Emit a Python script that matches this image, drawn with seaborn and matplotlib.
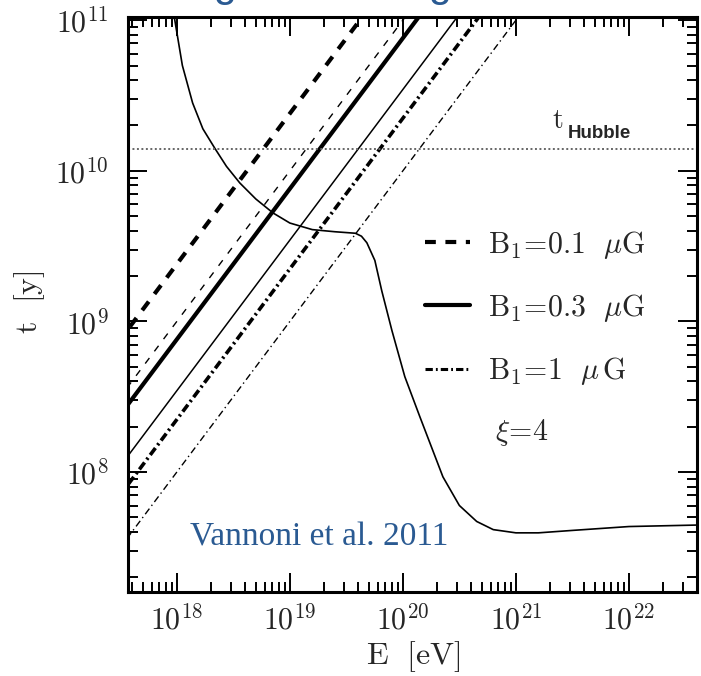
import numpy as np
import pandas as pd
import seaborn as sns
import matplotlib
matplotlib.use('Agg')
import matplotlib.pyplot as plt
from matplotlib.lines import Line2D
from matplotlib.ticker import LogLocator, FuncFormatter, NullFormatter

# Energy-loss time of the particles (thin solid curve).
loss_E = [8.9e17, 9.6e17, 1.12e18, 1.38e18, 1.70e18, 2.17e18, 2.75e18, 3.61e18,
          5.0e18, 7.1e18, 1.0e19, 1.58e19, 2.5e19, 3.8e19, 4.3e19,
          4.8e19, 5.65e19, 6.5e19, 8.0e19, 1.04e20, 1.41e20, 2.26e20, 3.16e20,
          4.5e20, 6.3e20, 1.0e21, 1.58e21, 3.16e21, 1.0e22, 4.0e22]
loss_t = [1.38e11, 1.0e11, 5.0e10, 2.82e10, 1.9e10, 1.41e10, 1.07e10, 8.3e9,
          6.5e9, 5.25e9, 4.5e9, 4.07e9, 3.94e9, 3.85e9, 3.68e9,
          3.33e9, 2.54e9, 1.60e9, 8.7e8, 4.3e8, 2.34e8, 9.3e7, 6.0e7,
          4.7e7, 4.15e7, 3.95e7, 3.95e7, 4.1e7, 4.35e7, 4.45e7]

# Confinement times (straight lines), end points at E = 3e17 and 3e21 eV.
line_E = [3e17, 3e21]
t_b01_thick = [7.2e8, 7.2e12]
t_b01_thin = [3.0e8, 3.0e12]
t_b03_thick = [2.28e8, 2.28e12]
t_b03_thin = [1.04e8, 1.04e12]
t_b1_thick = [6.7e7, 6.7e11]
t_b1_thin = [3.0e7, 3.0e11]

t_hubble = 1.4e10

legend_labels = [r'$\mathrm{B}_1\!=\!0.1\ \ \mu\mathrm{G}$',
                 r'$\mathrm{B}_1\!=\!0.3\ \ \mu\mathrm{G}$',
                 r'$\mathrm{B}_1\!=\!1\ \ \mu\,\mathrm{G}$']

BLUE = '#2a5a92'

sns.set_theme(style="ticks")
plt.rcParams['font.family'] = ['DejaVu Serif']
plt.rcParams['mathtext.fontset'] = 'cm'

fig, ax = plt.subplots(figsize=(7.01, 6.76), dpi=100)
fig.subplots_adjust(left=0.1826, right=0.9943, bottom=0.1243, top=0.9749)
ax.set_xscale('log')
ax.set_yscale('log')

dash_thick = (0, (2.6, 2.3))
dash_thin = (0, (5, 6))
dashdot_thick = (0, (2.4, 1.0, 0.6, 1.0))
dashdot_thin = (0, (5, 2.5, 1, 2.5))

styles = [
    (t_b01_thick, 3.0, dash_thick),
    (t_b01_thin, 1.0, dash_thin),
    (t_b03_thick, 3.0, '-'),
    (t_b03_thin, 1.1, '-'),
    (t_b1_thick, 2.6, dashdot_thick),
    (t_b1_thin, 1.0, dashdot_thin),
]
for t_vals, lw, ls in styles:
    df = pd.DataFrame({'E': line_E, 't': t_vals})
    sns.lineplot(data=df, x='E', y='t', ax=ax, color='black', lw=lw,
                 linestyle=ls, estimator=None, sort=False)

loss_df = pd.DataFrame({'E': loss_E, 't': loss_t})
sns.lineplot(data=loss_df, x='E', y='t', ax=ax, color='black', lw=1.2,
             estimator=None, sort=False)

ax.axhline(t_hubble, color='#666666', lw=1.4, linestyle=(0, (1, 1.3)))

ax.set_xlim(3.7e17, 4.0e22)
ax.set_ylim(1.6e7, 1.05e11)

# ticks, inward on all sides
fmt = FuncFormatter(lambda v, p: r'$10^{%d}$' % int(round(np.log10(v))))
for axis in (ax.xaxis, ax.yaxis):
    axis.set_major_locator(LogLocator(base=10, numticks=20))
    axis.set_minor_locator(LogLocator(base=10, subs=np.arange(2, 10), numticks=20))
    axis.set_major_formatter(fmt)
    axis.set_minor_formatter(NullFormatter())
ax.tick_params(which='both', direction='in', top=True, right=True,
               color='black', labelsize=21.5, width=1.4)
ax.tick_params(which='major', length=14)
ax.tick_params(which='minor', length=7)
ax.tick_params(axis='x', which='major', pad=9)
ax.tick_params(axis='y', which='major', pad=14)
for sp in ax.spines.values():
    sp.set_linewidth(2.2)
    sp.set_color('black')

ax.set_xlabel(r'$\mathrm{E\ \ [eV]}$', fontsize=23)
ax.set_ylabel(r'$\mathrm{t\ \ [y]}$', fontsize=23)
ax.xaxis.set_label_coords(0.501, -0.082)
ax.yaxis.set_label_coords(-0.142, 0.504)

handles = [Line2D([], [], color='black', lw=3.0, linestyle=dash_thick),
           Line2D([], [], color='black', lw=3.0, linestyle='-'),
           Line2D([], [], color='black', lw=2.2, linestyle=dashdot_thick)]
ax.legend(handles, legend_labels, loc='upper left', bbox_to_anchor=(0.522, 0.632),
          frameon=False, fontsize=21.5, handlelength=1.5, handletextpad=0.6,
          labelspacing=1.05, borderaxespad=0, borderpad=0)

ax.text(0.645, 0.2765, r'$\xi\!=\!4$', transform=ax.transAxes, fontsize=21.5,
        va='center', ha='left')
ax.text(0.745, 0.807, r'$\mathrm{t}$', transform=ax.transAxes, fontsize=20,
        va='baseline', ha='left')
ax.text(0.772, 0.79, 'Hubble', transform=ax.transAxes, fontsize=13.5,
        fontweight='bold', family='Liberation Sans', va='baseline', ha='left')
ax.text(0.109, 0.0957, 'Vannoni et al. 2011', transform=ax.transAxes,
        fontsize=24, family='Liberation Serif', color=BLUE, va='center', ha='left')

# slide title, cut off at the top edge of the picture
fig.text(0.137, 1.006, 'Cooling time vs. Age of the Universe', color=BLUE,
         fontsize=30, family='Liberation Sans', va='baseline', ha='left')

fig.savefig('out.png', dpi=100)
